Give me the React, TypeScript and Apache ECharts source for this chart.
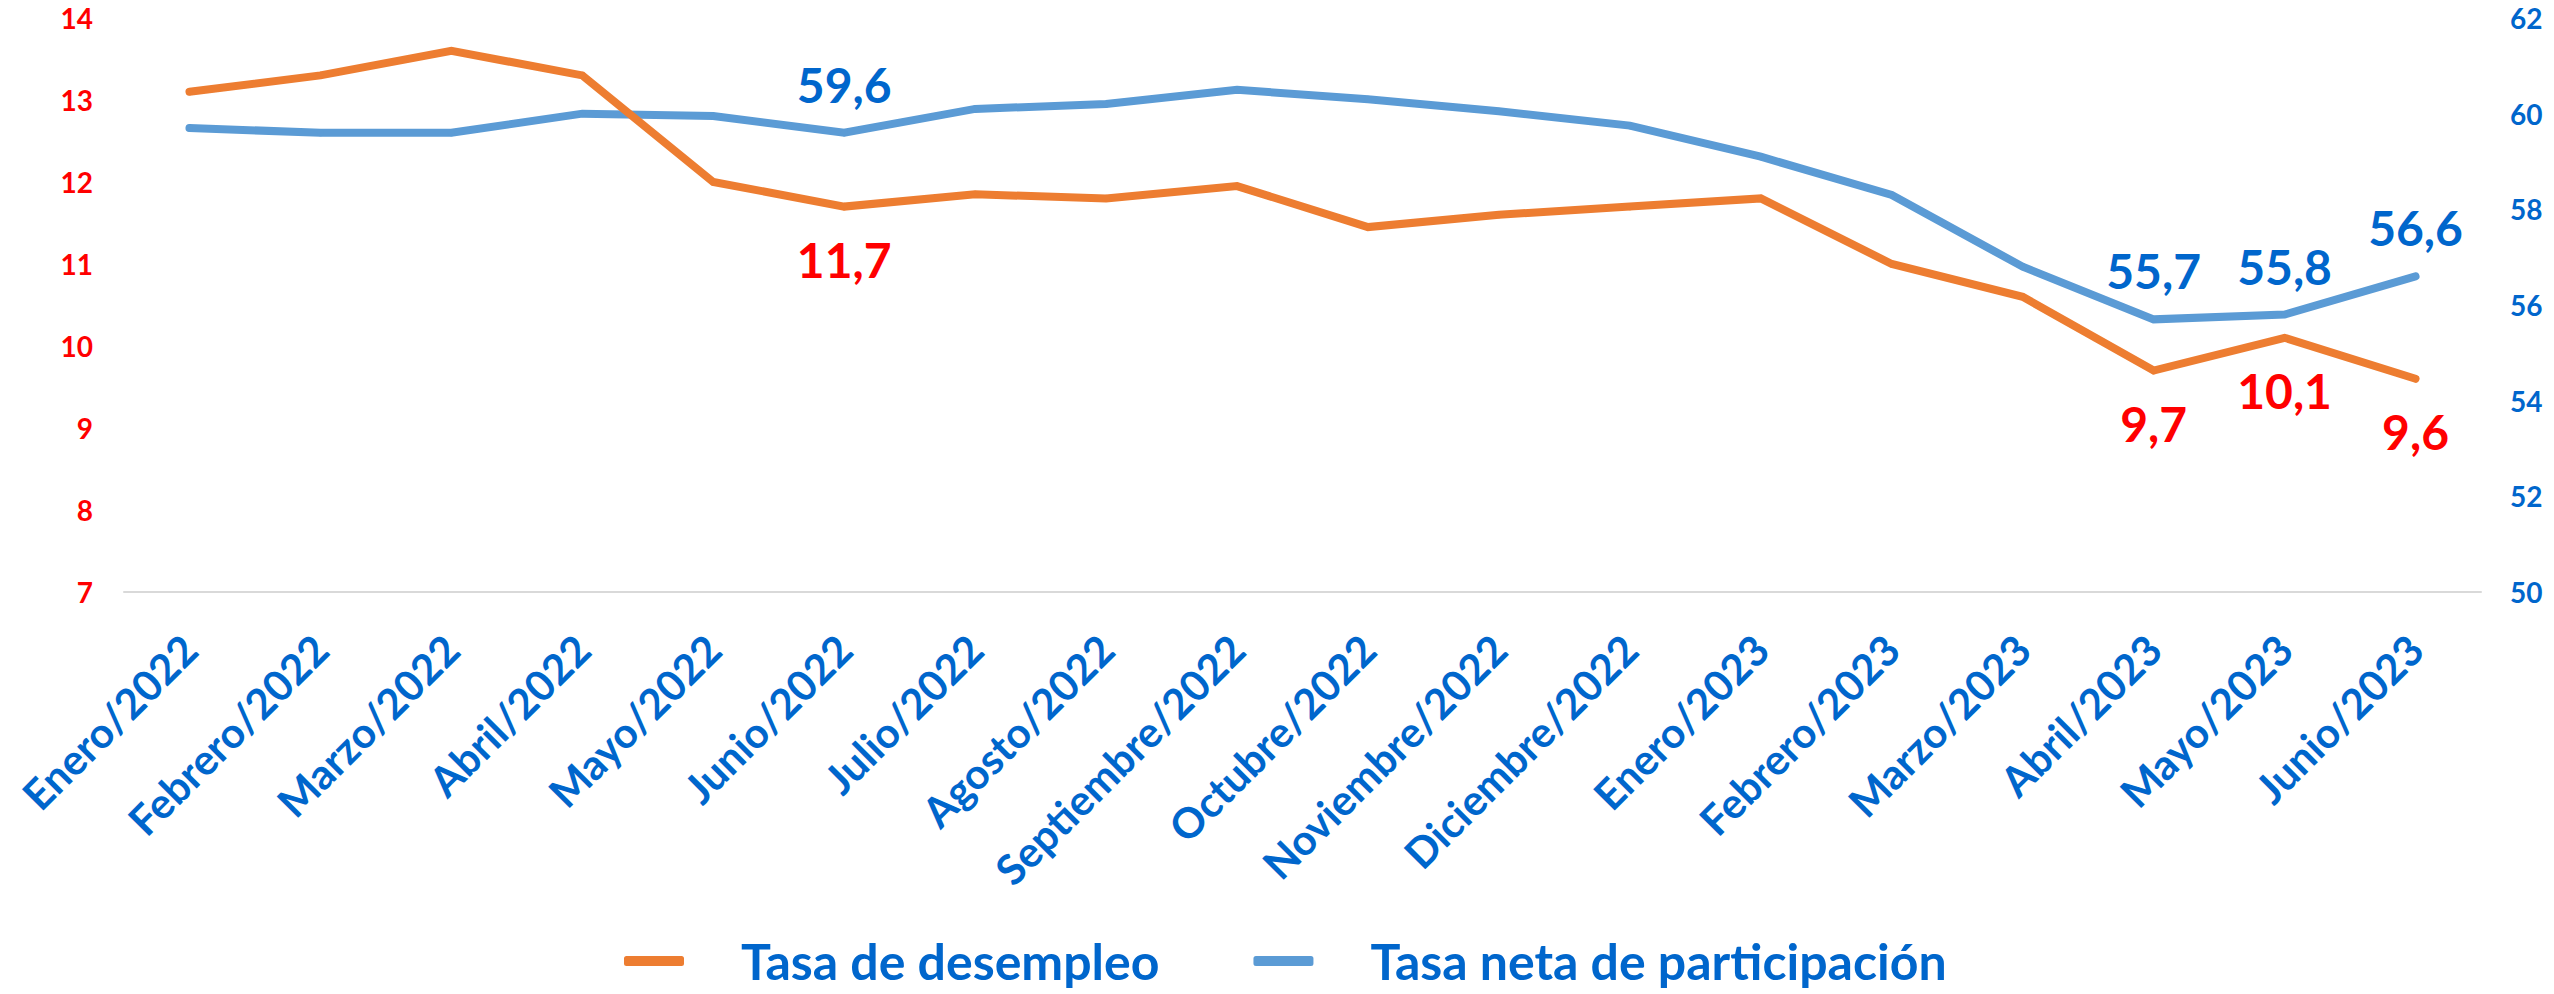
import React, { useEffect, useRef } from "react";
import * as echarts from "echarts";

const categories = [
  "Enero/2022", "Febrero/2022", "Marzo/2022", "Abril/2022", "Mayo/2022", "Junio/2022",
  "Julio/2022", "Agosto/2022", "Septiembre/2022", "Octubre/2022", "Noviembre/2022",
  "Diciembre/2022", "Enero/2023", "Febrero/2023", "Marzo/2023", "Abril/2023",
  "Mayo/2023", "Junio/2023",
];
const desempleo = [13.1, 13.3, 13.6, 13.3, 12.0, 11.7, 11.85, 11.8, 11.95, 11.45, 11.6, 11.7, 11.8, 11.0, 10.6, 9.7, 10.1, 9.6];
const participacion = [59.7, 59.6, 59.6, 60.0, 59.95, 59.6, 60.1, 60.2, 60.5, 60.3, 60.05, 59.75, 59.1, 58.3, 56.8, 55.7, 55.8, 56.6];
const labeledIdx = [5, 15, 16, 17];
const leftTicks = { min: 7, max: 14, interval: 1 };
const rightTicks = { min: 50, max: 62, interval: 2 };
const seriesNames = ["Tasa de desempleo", "Tasa neta de participación"];

const FONT = "Lato";
const BLUE_TXT = "#0066CC";
const RED_TXT = "#FF0000";
const ORANGE = "#ED7D31";
const BLUE_LINE = "#5B9BD5";

const fmt = (v: number) => v.toFixed(1).replace(".", ",");

export default function App() {
  const ref = useRef<HTMLDivElement>(null);
  useEffect(() => {
    document.body.style.margin = "0";
    if (!ref.current) return;
    const chart = echarts.init(ref.current, undefined, { renderer: "svg" });
    const labelCfg = (pos: "top" | "bottom", color: string, dist: number) => ({
      show: true,
      position: pos,
      distance: dist,
      formatter: (p: any) => (labeledIdx.includes(p.dataIndex) ? fmt(p.value) : ""),
      color,
      fontFamily: FONT,
      fontWeight: "bold",
      fontSize: 48,
    });
    chart.setOption({
      animation: false,
      grid: { left: 124, right: 73, top: 18, bottom: 402, containLabel: false },
      legend: {
        left: 619,
        top: 931,
        itemWidth: 60,
        itemHeight: 10,
        itemGap: 94,
        icon: "roundRect",
        textStyle: {
          fontFamily: FONT,
          fontWeight: "bold",
          fontSize: 50,
          lineHeight: 50,
          color: BLUE_TXT,
          padding: [0, 0, 0, 52],
        },
        data: seriesNames,
      },
      xAxis: {
        type: "category",
        data: categories,
        boundaryGap: true,
        axisLine: { show: true, lineStyle: { color: "#D9D9D9", width: 2 } },
        axisTick: { show: false },
        axisLabel: {
          rotate: 45,
          interval: 0,
          margin: 50,
          color: BLUE_TXT,
          fontFamily: FONT,
          fontWeight: "bold",
          fontSize: 42,
        },
      },
      yAxis: [
        {
          type: "value",
          min: leftTicks.min,
          max: leftTicks.max,
          interval: leftTicks.interval,
          position: "left",
          axisLine: { show: false },
          axisTick: { show: false },
          splitLine: { show: false },
          axisLabel: {
            margin: 31,
            color: RED_TXT,
            fontFamily: FONT,
            fontWeight: "bold",
            fontSize: 28,
          },
        },
        {
          type: "value",
          min: rightTicks.min,
          max: rightTicks.max,
          interval: rightTicks.interval,
          position: "right",
          axisLine: { show: false },
          axisTick: { show: false },
          splitLine: { show: false },
          axisLabel: {
            margin: 29,
            color: BLUE_TXT,
            fontFamily: FONT,
            fontWeight: "bold",
            fontSize: 28,
          },
        },
      ],
      series: [
        {
          name: seriesNames[0],
          type: "line",
          yAxisIndex: 0,
          data: desempleo,
          showSymbol: true,
          symbol: "circle",
          symbolSize: 7,
          label: labelCfg("bottom", RED_TXT, 25),
          lineStyle: { color: ORANGE, width: 8, cap: "round", join: "miter" },
          itemStyle: { color: ORANGE, borderWidth: 0 },
          z: 3,
        },
        {
          name: seriesNames[1],
          type: "line",
          yAxisIndex: 1,
          data: participacion,
          showSymbol: true,
          symbol: "circle",
          symbolSize: 7,
          label: labelCfg("top", BLUE_TXT, 21),
          lineStyle: { color: BLUE_LINE, width: 8, cap: "round", join: "miter" },
          itemStyle: { color: BLUE_LINE, borderWidth: 0 },
          z: 2,
        },
      ],
    });
    return () => chart.dispose();
  }, []);
  return <div ref={ref} style={{ width: 2554, height: 994 }} />;
}
